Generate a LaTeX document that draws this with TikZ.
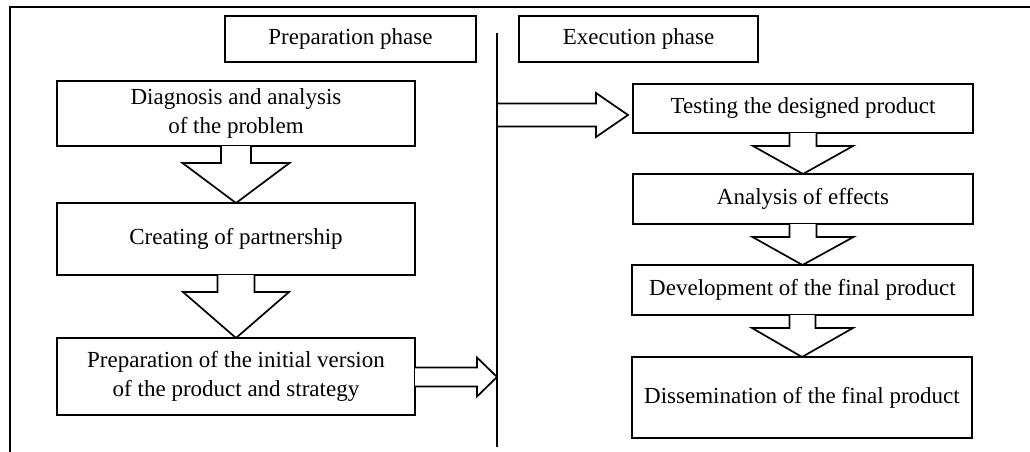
\documentclass[tikz,border=0pt]{standalone}
\usepackage{fontspec}
\setmainfont{Liberation Serif}
\usetikzlibrary{calc}
\tikzset{
  ln/.style={line width=1.7pt, line join=miter},
  box/.style={ln, draw, rectangle, inner sep=0pt, outer sep=0pt, align=center,
    font=\fontsize{23}{29}\selectfont},
  blk/.style={ln, draw, fill=white},
}
\newcommand\blockdown[5]{%
  \draw[blk] ($(#1.south)+(-#3,0)$) -- ++(0,#5) -- ($(#1.south)+(-#4,#5)$)
    -- (#2.north) -- ($(#1.south)+(#4,#5)$) -- ($(#1.south)+(#3,#5)$)
    -- ($(#1.south)+(#3,0)$);}
\begin{document}
\begin{tikzpicture}[x=1pt,y=-1pt]
\useasboundingbox (0,0) rectangle (1030,452);
% frame
\coordinate (ftl) at (10,7);
\coordinate (ftr) at (1031,7);
\coordinate (fbl) at (10,453);
\draw[ln] (fbl) -- (ftl) -- (ftr);
% divider
\coordinate (divtop) at (497,33);
\coordinate (divbot) at (497,447);
% phase headers
\node[box, minimum width=251pt, minimum height=46pt] (prepphase) at (350.5,39) {Preparation phase};
\node[box, minimum width=239pt, minimum height=46pt] (execphase) at (638.5,39) {Execution phase};
% left column
\node[box, minimum width=358pt, minimum height=65pt] (diag) at (236,113.5) {Diagnosis and analysis\\ of the problem};
\node[box, minimum width=358pt, minimum height=72pt] (create) at (236,239) {Creating of partnership};
\node[box, minimum width=358pt, minimum height=77pt] (prep) at (236,376.5) {Preparation of the initial version\\ of the product and strategy};
% right column
\node[box, minimum width=340pt, minimum height=49pt] (test) at (803,108.5) {Testing the designed product};
\node[box, minimum width=340pt, minimum height=50pt] (anal) at (803,199) {Analysis of effects};
\node[box, minimum width=341pt, minimum height=50pt] (dev) at (802.5,290) {Development of the final product};
\node[box, minimum width=340pt, minimum height=81pt] (diss) at (802,397.5) {Dissemination of the final product};
% down block arrows
\blockdown{diag}{create}{15}{53.5}{17}
\blockdown{create}{prep}{18.5}{53}{17}
\blockdown{test}{anal}{13.5}{50}{13}
\blockdown{anal}{dev}{13.5}{50.5}{13}
\blockdown{dev}{diss}{13}{50.5}{13}
% horizontal block arrow: prep -> divider
\coordinate (t1) at (divtop |- 0,377);
\draw[blk] ($(prep.east |- t1)+(0,-9.5)$) -- ($(t1)+(-20,-9.5)$) -- ($(t1)+(-20,-19.5)$)
  -- (t1) -- ($(t1)+(-20,19.5)$) -- ($(t1)+(-20,9.5)$) -- ($(prep.east |- t1)+(0,9.5)$);
% horizontal block arrow: divider -> test
\coordinate (d2) at (divtop |- 0,115);
\coordinate (t2) at ($(test.west |- d2)+(-5,0)$);
\draw[blk] ($(d2)+(0,-11.5)$) -- ($(t2)+(-32,-11.5)$) -- ($(t2)+(-32,-22)$)
  -- (t2) -- ($(t2)+(-32,22)$) -- ($(t2)+(-32,11.5)$) -- ($(d2)+(0,11.5)$);
% divider on top
\draw[ln] (divtop) -- (divbot);
\end{tikzpicture}
\end{document}
